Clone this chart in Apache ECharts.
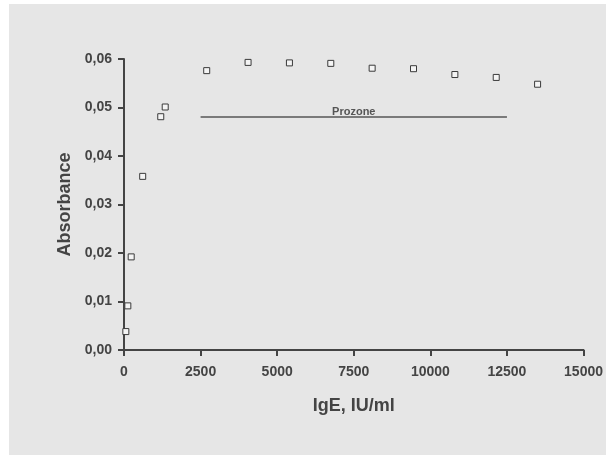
<!DOCTYPE html>
<html>
<head>
<meta charset="utf-8">
<script src="https://cdn.jsdelivr.net/npm/echarts@6/dist/echarts.min.js"></script>
<style>
  html, body { margin: 0; padding: 0; background: #ffffff; overflow: hidden; }
  #chart { position: absolute; left: 9px; top: 4px; width: 597px; height: 451px; background: #e6e6e6; }
</style>
</head>
<body>
<div id="chart"></div>
<script>
// IgE concentration (IU/ml) and absorbance
const igE = [60, 125, 235, 610, 1200, 1345, 2700, 4050, 5400, 6750, 8100, 9450, 10800, 12150, 13500]
const absorbance = [0.0038, 0.0091, 0.0192, 0.0358, 0.0481, 0.0501, 0.0576, 0.0593, 0.0592, 0.0591, 0.0581, 0.0580, 0.0568, 0.0562, 0.0548]

// prozone bar
const prozoneFrom = 2500
const prozoneTo = 12500
const prozoneLevel = 0.048

const textColor = '#444'
const font = 'Liberation Sans, Arial, sans-serif'

const chart = echarts.init(document.getElementById('chart'))

const option = {
  animation: false,
  textStyle: { fontFamily: font },
  grid: { left: 115, top: 55, width: 463, height: 291 },
  xAxis: {
    type: 'value',
    min: 0,
    max: 15000,
    interval: 2500,
    name: 'IgE, IU/ml',
    nameLocation: 'middle',
    nameGap: 47,
    nameTextStyle: { color: textColor, fontSize: 18, fontWeight: 'bold', fontFamily: font },
    axisLine: { lineStyle: { color: textColor, width: 2 } },
    axisTick: { length: 6, lineStyle: { color: textColor, width: 2 } },
    axisLabel: {
      color: textColor, fontSize: 14, fontWeight: 'bold', fontFamily: font, margin: 15,
      formatter: v => String(v)
    },
    splitLine: { show: false }
  },
  yAxis: {
    type: 'value',
    min: 0,
    max: 0.06,
    interval: 0.01,
    name: 'Absorbance',
    nameLocation: 'middle',
    nameGap: 45,
    nameTextStyle: { color: textColor, fontSize: 18, fontWeight: 'bold', fontFamily: font },
    axisLine: { show: true, lineStyle: { color: textColor, width: 2 } },
    axisTick: { show: true, length: 6, lineStyle: { color: textColor, width: 2 } },
    axisLabel: {
      color: textColor, fontSize: 14, fontWeight: 'bold', fontFamily: font, margin: 12,
      formatter: v => v.toFixed(2).replace('.', ',')
    },
    splitLine: { show: false }
  },
  series: [
    {
      type: 'scatter',
      data: igE.map((x, i) => [x, absorbance[i]]),
      symbol: 'rect',
      symbolSize: 6,
      itemStyle: { color: '#f4f4f4', borderColor: '#3a3a3a', borderWidth: 1, opacity: 1 },
      z: 3
    },
    {
      type: 'line',
      data: [],
      silent: true,
      markLine: {
        symbol: 'none',
        silent: true,
        lineStyle: { color: '#7a7a7a', width: 2, type: 'solid' },
        label: {
          show: true,
          position: 'middle',
          formatter: 'Prozone',
          color: '#555',
          fontSize: 11,
          fontWeight: 'bold',
          fontFamily: font,
          distance: 0
        },
        data: [[
          { coord: [prozoneFrom, prozoneLevel] },
          { coord: [prozoneTo, prozoneLevel] }
        ]]
      }
    }
  ]
}

chart.setOption(option)
</script>
</body>
</html>
